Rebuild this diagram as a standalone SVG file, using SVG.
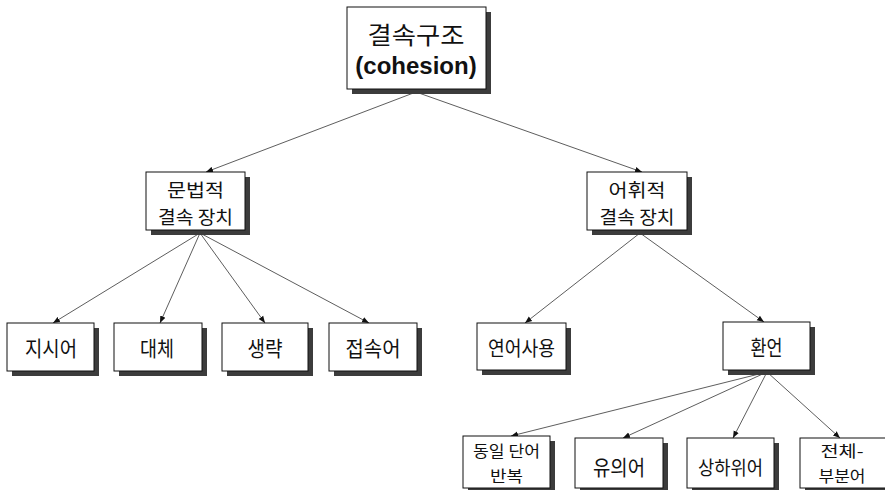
<svg xmlns="http://www.w3.org/2000/svg" width="885" height="490" viewBox="0 0 885 490">
<style>
.box{fill:#fff;stroke:#111;stroke-width:1}
.sh{fill:#3c3c3c}
.t{font-family:"Noto Sans CJK KR","Liberation Sans",sans-serif;fill:#111;text-anchor:middle;dominant-baseline:central}
.c{stroke:#333;stroke-width:0.8;fill:none;marker-end:url(#a)}
</style>
<defs>
<marker id="a" viewBox="0 0 10 10" refX="10" refY="5" markerWidth="7" markerHeight="7" markerUnits="userSpaceOnUse" orient="auto">
<path d="M0,1 L10,5 L0,9 z" fill="#111"/>
</marker>
</defs>
<rect width="885" height="490" fill="#fff"/>
<g id="connectors">
<line class="c" x1="416" y1="92" x2="206" y2="172"/>
<line class="c" x1="416" y1="92" x2="642" y2="172"/>
<line class="c" x1="200" y1="233" x2="53" y2="323"/>
<line class="c" x1="200" y1="233" x2="160" y2="323"/>
<line class="c" x1="200" y1="233" x2="265" y2="323"/>
<line class="c" x1="200" y1="233" x2="369" y2="323"/>
<line class="c" x1="640" y1="233" x2="525" y2="323"/>
<line class="c" x1="640" y1="233" x2="764" y2="322"/>
<line class="c" x1="767" y1="372" x2="511" y2="436"/>
<line class="c" x1="767" y1="372" x2="623" y2="438"/>
<line class="c" x1="767" y1="372" x2="733" y2="438"/>
<line class="c" x1="767" y1="372" x2="840" y2="438"/>
</g>
<g id="n-cohesion">
<rect class="sh" x="352" y="12" width="139" height="82"/>
<rect class="box" x="347" y="7" width="139" height="82"/>
<text class="t" x="416" y="33" font-size="24" textLength="97" lengthAdjust="spacingAndGlyphs">결속구조</text>
<text class="t" x="416" y="65" font-size="24" font-weight="bold" style="font-family:'Liberation Sans',sans-serif">(cohesion)</text>
</g>
<g id="n-grammar">
<rect class="sh" x="151" y="177" width="99" height="58"/>
<rect class="box" x="146" y="172" width="99" height="58"/>
<text class="t" x="195.5" y="189" font-size="18" textLength="57" lengthAdjust="spacingAndGlyphs">문법적</text>
<text class="t" x="195.5" y="216" font-size="18" textLength="75" lengthAdjust="spacingAndGlyphs">결속 장치</text>
</g>
<g id="n-lexical">
<rect class="sh" x="592" y="177" width="100" height="58"/>
<rect class="box" x="587" y="172" width="100" height="58"/>
<text class="t" x="637" y="189" font-size="18" textLength="57" lengthAdjust="spacingAndGlyphs">어휘적</text>
<text class="t" x="637" y="216" font-size="18" textLength="75" lengthAdjust="spacingAndGlyphs">결속 장치</text>
</g>
<g id="n-reference">
<rect class="sh" x="12" y="328" width="87" height="48"/>
<rect class="box" x="7" y="323" width="87" height="48"/>
<text class="t" x="51" y="347" font-size="21" textLength="52" lengthAdjust="spacingAndGlyphs">지시어</text>
</g>
<g id="n-substitution">
<rect class="sh" x="119" y="328" width="88" height="48"/>
<rect class="box" x="114" y="323" width="88" height="48"/>
<text class="t" x="157" y="347" font-size="21" textLength="34" lengthAdjust="spacingAndGlyphs">대체</text>
</g>
<g id="n-ellipsis">
<rect class="sh" x="227" y="328" width="86" height="48"/>
<rect class="box" x="222" y="323" width="86" height="48"/>
<text class="t" x="265" y="347" font-size="21" textLength="35" lengthAdjust="spacingAndGlyphs">생략</text>
</g>
<g id="n-conjunction">
<rect class="sh" x="334" y="328" width="88" height="48"/>
<rect class="box" x="329" y="323" width="88" height="48"/>
<text class="t" x="373" y="347" font-size="21" textLength="55" lengthAdjust="spacingAndGlyphs">접속어</text>
</g>
<g id="n-collocation">
<rect class="sh" x="482" y="328" width="89" height="47"/>
<rect class="box" x="477" y="323" width="89" height="47"/>
<text class="t" x="521.5" y="347" font-size="20" textLength="67" lengthAdjust="spacingAndGlyphs">연어사용</text>
</g>
<g id="n-reiteration">
<rect class="sh" x="728" y="327" width="87" height="48"/>
<rect class="box" x="723" y="322" width="87" height="48"/>
<text class="t" x="766.5" y="346" font-size="21" textLength="32" lengthAdjust="spacingAndGlyphs">환언</text>
</g>
<g id="n-repetition">
<rect class="sh" x="468" y="441" width="87" height="52"/>
<rect class="box" x="463" y="436" width="87" height="52"/>
<text class="t" x="506.5" y="450" font-size="16" textLength="67" lengthAdjust="spacingAndGlyphs">동일 단어</text>
<text class="t" x="506.5" y="475" font-size="16" textLength="33" lengthAdjust="spacingAndGlyphs">반복</text>
</g>
<g id="n-synonym">
<rect class="sh" x="580" y="443" width="88" height="50"/>
<rect class="box" x="575" y="438" width="88" height="50"/>
<text class="t" x="619" y="466" font-size="21" textLength="52" lengthAdjust="spacingAndGlyphs">유의어</text>
</g>
<g id="n-hyponym">
<rect class="sh" x="692" y="443" width="87" height="50"/>
<rect class="box" x="687" y="438" width="87" height="50"/>
<text class="t" x="730.5" y="466" font-size="19" textLength="65" lengthAdjust="spacingAndGlyphs">상하위어</text>
</g>
<g id="n-meronym">
<rect class="sh" x="805" y="443" width="87" height="50"/>
<rect class="box" x="800" y="438" width="87" height="50"/>
<text class="t" x="842" y="450" font-size="16" textLength="43" lengthAdjust="spacingAndGlyphs">전체-</text>
<text class="t" x="842" y="475" font-size="16" textLength="47" lengthAdjust="spacingAndGlyphs">부분어</text>
</g>
</svg>
